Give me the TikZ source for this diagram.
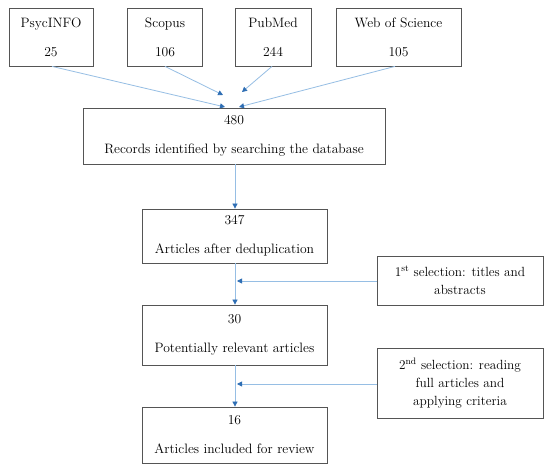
\documentclass[tikz,border=0pt]{standalone}
\usetikzlibrary{arrows.meta,calc}
\definecolor{lineblue}{RGB}{150,190,228}
\definecolor{tipblue}{RGB}{46,110,180}
\definecolor{boxgray}{RGB}{85,85,85}
\begin{document}
\begin{tikzpicture}[x=1pt,y=-1pt,
  box/.style={draw=boxgray,line width=0.8pt,rectangle,align=center,inner sep=0pt,
    font=\fontsize{13.6}{29}\selectfont},
  sidebox/.style={box,font=\fontsize{13.3}{18}\selectfont},
  conn/.style={draw=lineblue,line width=0.8pt,
    -{Triangle[length=5pt,width=5pt,fill=tipblue,color=tipblue]}}]
\useasboundingbox (0,0) rectangle (550,473);
\fill[white] (0,0) rectangle (550,473);
% top boxes
\node[box,minimum width=84pt,minimum height=58pt] (psy) at (51,37) {PsycINFO\\25};
\node[box,minimum width=75pt,minimum height=58pt] (sco) at (165,37) {Scopus\\106};
\node[box,minimum width=76pt,minimum height=58pt] (pub) at (273,37) {PubMed\\244};
\node[box,minimum width=125pt,minimum height=58pt] (wos) at (398.5,37) {Web of Science\\105};
% main chain
\node[box,minimum width=302pt,minimum height=56pt] (rec) at (234,136) {480\\Records identified by searching the database};
\node[box,minimum width=185pt,minimum height=54pt] (dedup) at (234.5,236) {347\\Articles after deduplication};
\node[box,minimum width=185pt,minimum height=60pt] (rel) at (234.5,335) {30\\Potentially relevant articles};
\node[box,minimum width=185pt,minimum height=56pt] (inc) at (234.5,435) {16\\Articles included for review};
% side boxes
\node[sidebox,minimum width=166pt,minimum height=49pt] (sel1) at (460,280.5) {1\textsuperscript{st} selection: titles and\\abstracts};
\node[sidebox,minimum width=166pt,minimum height=70pt] (sel2) at (460,383) {2\textsuperscript{nd} selection: reading\\full articles and\\applying criteria};
% convergence points
\coordinate (ePsy) at (225,107);
\coordinate (eWos) at (239,107);
\coordinate (eSco) at (223,95);
\coordinate (ePub) at (242,92);
\draw[conn] ($(psy.south)+(1,0)$) -- (ePsy);
\draw[conn] (sco.south) -- (eSco);
\draw[conn] ($(pub.south)+(-1,0)$) -- (ePub);
\draw[conn] ($(wos.south)+(-3.5,0)$) -- (eWos);
% vertical arrows
\draw[conn] ($(rec.south)+(1,0)$) -- ($(dedup.north)+(0.5,0)$);
\draw[conn] ($(dedup.south)+(0.5,0)$) -- ($(rel.north)+(0.5,0)$);
\draw[conn] ($(rel.south)+(0.5,0)$) -- ($(inc.north)+(0.5,0)$);
% side arrows
\coordinate (m1) at (237,281);
\coordinate (m2) at (237,384);
\draw[conn] (sel1.west |- m1) -- (m1);
\draw[conn] (sel2.west |- m2) -- (m2);
\end{tikzpicture}
\end{document}
